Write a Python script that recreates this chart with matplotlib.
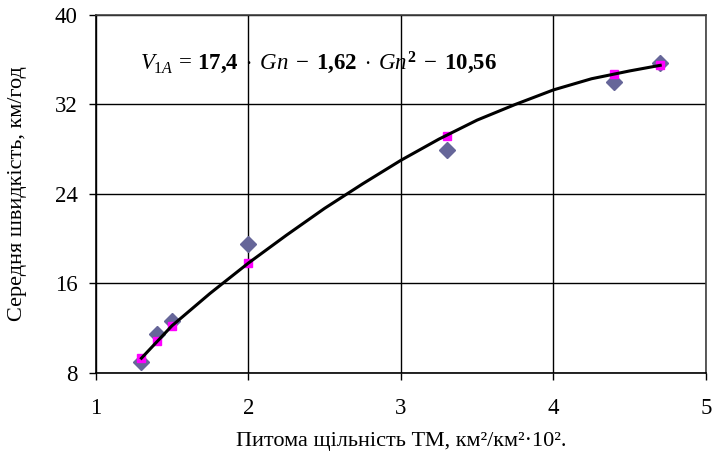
import matplotlib
matplotlib.use("Agg")
import matplotlib.pyplot as plt

plt.rcParams['font.family'] = ['Liberation Serif', 'DejaVu Serif']
plt.rcParams['mathtext.fontset'] = 'custom'
plt.rcParams['mathtext.rm'] = 'Liberation Serif'
plt.rcParams['mathtext.it'] = 'Liberation Serif:italic'
plt.rcParams['mathtext.bf'] = 'Liberation Serif:bold'

# Observed data (diamonds)
gn_obs = [1.3, 1.4, 1.5, 2.0, 3.3, 4.4, 4.7]
v_obs = [9.0, 11.5, 12.6, 19.5, 27.9, 34.0, 35.7]

# Fitted values (magenta squares)
v_fit = [9.3, 10.8, 12.2, 17.8, 29.2, 34.7, 35.5]

# Trend curve
gn_curve = [1.3, 1.5, 1.75, 2.0, 2.25, 2.5, 2.75, 3.0, 3.25, 3.5, 3.75, 4.0, 4.25, 4.5, 4.7]
v_curve = [9.3, 12.2, 15.1, 17.8, 20.3, 22.7, 24.9, 27.0, 28.9, 30.6, 32.0, 33.3, 34.3, 35.0, 35.5]

x_ticks = [1, 2, 3, 4, 5]
y_ticks = [8, 16, 24, 32, 40]

fig = plt.figure(figsize=(7.15, 4.58), dpi=100)
ax = fig.add_axes([0.1338, 0.1862, 0.9874 - 0.1338, 0.9672 - 0.1862])

ax.set_xlim(1, 5)
ax.set_ylim(8, 40)
ax.set_xticks(x_ticks)
ax.set_yticks(y_ticks)
ax.grid(True, color='black', linewidth=1.0)
ax.set_axisbelow(True)

ax.plot(gn_obs, v_obs, linestyle='none', marker='D', markersize=8,
        color='#666699', zorder=3)
ax.plot(gn_obs, v_fit, linestyle='none', marker='s', markersize=6,
        color='#FF00FF', zorder=4)
ax.plot(gn_curve, v_curve, color='black', linewidth=2.2, zorder=5)

ax.text(1.29, 35.7,
        r'$V_{1A}\,=\,\mathbf{17{,}4}\;\cdot\;Gn\;-\;\mathbf{1{,}62}\;\cdot\;Gn^{\mathbf{2}}\;-\;\mathbf{10{,}56}$',
        fontsize=16.5, va='center', ha='left', zorder=6)

for side in ['left', 'bottom']:
    ax.spines[side].set_color('black')
    ax.spines[side].set_linewidth(1.2)
for side in ['top', 'right']:
    ax.spines[side].set_color('#404040')
    ax.spines[side].set_linewidth(1.2)

ax.tick_params(axis='both', direction='out', length=5, width=1.0,
               labelsize=16.5, color='black')
ax.tick_params(axis='y', pad=8)
ax.tick_params(axis='x', pad=13)

ax.set_xlabel('Питома щільність ТМ, км²/км²·10².', fontsize=16)
ax.set_ylabel('Середня швидкість, км/год', fontsize=16)
ax.xaxis.set_label_coords(0.5, -0.165)
ax.yaxis.set_label_coords(-0.112, 0.5)

fig.savefig('out.png', dpi=100)
